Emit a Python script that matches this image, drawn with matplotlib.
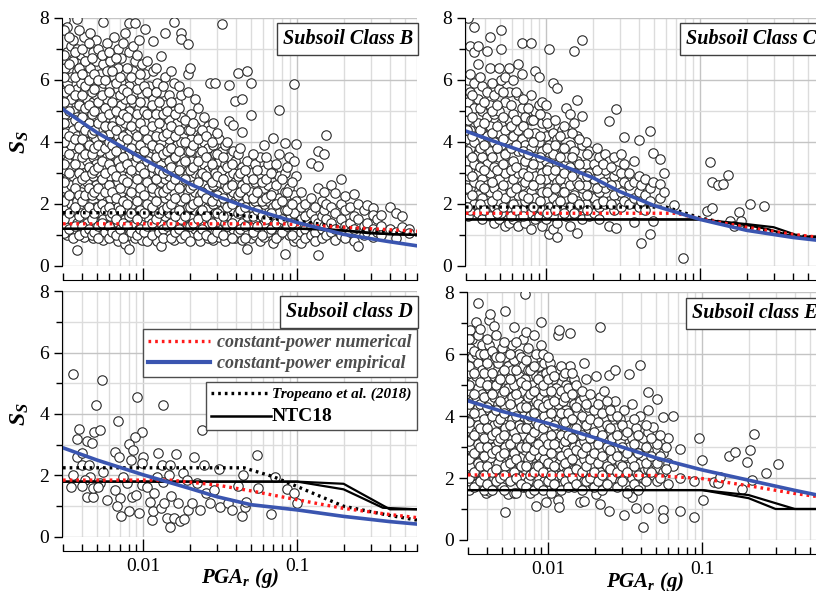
import matplotlib
matplotlib.use("Agg")
import matplotlib.pyplot as plt
from matplotlib.lines import Line2D
from matplotlib.ticker import LogLocator, FixedLocator, NullFormatter, FixedFormatter

plt.rcParams['font.family'] = ['Liberation Serif', 'DejaVu Serif']
plt.rcParams['mathtext.fontset'] = 'custom'
plt.rcParams['mathtext.it'] = 'Liberation Serif:italic:bold'
plt.rcParams['mathtext.rm'] = 'Liberation Serif:italic:bold'

# ---------------- scatter data: PGA_r columns and the S_S values in each ----------------
B_pga = [0.0031, 0.0032, 0.0034, 0.0035, 0.0037, 0.0039, 0.0041, 0.0043, 0.0045, 0.0047,
         0.0049, 0.0052, 0.0055, 0.0058, 0.0061, 0.0064, 0.0068, 0.0072, 0.0076, 0.0080,
         0.0085, 0.0088, 0.0093, 0.0098, 0.0103, 0.0109, 0.0116, 0.0123, 0.0131, 0.0138,
         0.0146, 0.0157, 0.0166, 0.0176, 0.0194,
         0.0205, 0.0218, 0.0232, 0.0246, 0.0262, 0.0270, 0.0285, 0.0294, 0.0312, 0.0322,
         0.0340, 0.0360, 0.0385, 0.0395, 0.0410, 0.0440, 0.0470, 0.0497, 0.0530, 0.0570,
         0.0610, 0.0650, 0.0700, 0.0760, 0.0830, 0.0890, 0.0950, 0.0985,
         0.105, 0.112, 0.123, 0.130, 0.136, 0.145, 0.150, 0.153, 0.165, 0.175, 0.191,
         0.205, 0.220, 0.235, 0.250, 0.270, 0.285, 0.310, 0.330, 0.350, 0.400, 0.440,
         0.480, 0.530]
B_ss = [[7.95, 6.4, 5.6, 4.9, 4.3, 3.7, 3.1, 2.5, 1.9, 1.3],
        [7.7, 6.9, 5.9, 5.2, 4.0, 3.4, 2.8, 2.2, 1.6, 1.0],
        [7.1, 6.1, 5.4, 4.6, 3.9, 3.2, 2.6, 2.0, 1.5, 1.1],
        [7.3, 6.6, 5.0, 4.4, 3.6, 2.9, 2.3, 1.8, 1.2, 0.9],
        [7.97, 7.0, 6.3, 5.7, 4.8, 4.2, 3.5, 2.7, 2.1, 1.4, 0.52],
        [6.8, 5.9, 5.3, 4.6, 3.9, 3.3, 2.4, 1.7, 1.2],
        [7.4, 6.5, 5.6, 5.0, 4.3, 3.7, 3.0, 2.2, 1.5, 0.95],
        [6.9, 6.2, 5.4, 4.7, 4.0, 3.4, 2.7, 2.0, 1.4],
        [7.5, 6.4, 5.8, 5.1, 4.5, 3.8, 3.1, 2.4, 1.8, 1.1],
        [6.9, 6.0, 5.3, 4.2, 3.5, 2.9, 2.1, 1.6, 0.9],
        [7.3, 6.6, 5.5, 4.8, 4.1, 3.3, 2.6, 1.9, 1.3],
        [6.2, 5.7, 5.0, 4.4, 3.7, 3.0, 2.3, 1.7, 1.0],
        [7.86, 6.5, 5.9, 5.2, 4.6, 3.9, 3.2, 2.5, 1.5, 0.85],
        [7.2, 6.3, 5.4, 4.8, 4.1, 3.5, 2.8, 2.1, 1.2],
        [6.6, 5.8, 5.1, 4.3, 3.6, 2.9, 2.2, 1.6, 1.0],
        [7.4, 6.1, 5.5, 4.7, 4.0, 3.3, 2.6, 1.8, 1.2],
        [7.0, 6.4, 5.7, 4.9, 4.2, 3.4, 2.7, 1.9, 1.4, 0.8],
        [6.7, 5.9, 5.2, 4.5, 3.8, 3.0, 2.4, 1.7, 1.1],
        [7.5, 6.2, 5.4, 4.6, 3.9, 3.2, 2.5, 1.5, 0.7],
        [7.84, 6.9, 5.8, 5.0, 4.3, 3.6, 2.9, 2.2, 1.6, 1.0, 0.56],
        [7.1, 6.3, 5.3, 4.7, 4.0, 3.3, 2.6, 1.9, 1.3],
        [7.84, 6.6, 5.6, 4.4, 3.7, 3.0, 2.3, 1.7, 0.9],
        [7.3, 6.0, 5.1, 4.5, 3.8, 3.1, 2.4, 1.8, 1.2],
        [6.5, 5.5, 4.8, 4.1, 3.4, 2.7, 2.0, 1.4, 0.85],
        [7.65, 6.2, 5.3, 4.6, 3.9, 3.2, 2.5, 1.6, 1.1],
        [5.8, 5.0, 4.3, 3.6, 2.9, 2.2, 1.5, 0.9],
        [7.25, 6.3, 5.4, 4.7, 3.8, 3.0, 2.4, 1.8, 1.2],
        [5.9, 5.1, 4.4, 3.7, 3.1, 2.6, 1.9, 1.3, 0.8],
        [6.77, 5.6, 4.8, 4.0, 3.3, 2.7, 2.0, 1.4, 0.64],
        [7.52, 6.1, 5.2, 4.5, 3.5, 2.8, 2.2, 1.6, 1.0],
        [5.5, 4.7, 4.1, 3.4, 2.9, 2.3, 1.7, 1.1],
        [7.86, 5.9, 5.0, 4.3, 3.6, 3.0, 2.4, 1.8, 1.2, 0.85],
        [5.3, 4.6, 3.9, 3.2, 2.6, 2.0, 1.4],
        [7.52, 7.33, 5.5, 4.8, 4.0, 3.3, 2.7, 2.1, 1.5, 0.9],
        [7.15, 6.2, 5.6, 4.4, 3.7, 3.0, 2.4, 1.9, 1.3],
        [4.9, 4.1, 3.4, 2.8, 2.2, 1.6, 1.0],
        [5.4, 4.5, 3.7, 3.0, 2.4, 1.8, 1.2],
        [4.2, 3.6, 2.9, 2.3, 1.7, 1.1, 0.8],
        [4.8, 4.0, 3.3, 2.6, 2.0, 1.4],
        [4.5, 3.8, 3.1, 2.5, 1.9, 1.3, 0.9],
        [5.9, 4.4, 3.5, 2.8, 2.1, 1.5],
        [4.6, 3.9, 3.2, 2.6, 2.0, 1.2, 0.85],
        [5.9, 3.6, 3.0, 2.3, 1.7, 1.1],
        [4.1, 3.4, 2.7, 2.1, 1.5, 0.95],
        [7.79, 3.7, 3.1, 2.4, 1.8, 1.2],
        [3.9, 3.3, 2.6, 2.0, 1.4, 0.8],
        [5.85, 4.67, 3.5, 2.9, 2.2, 1.6, 1.0],
        [4.56, 3.7, 3.0, 2.4, 1.8, 1.2],
        [5.32, 3.4, 2.7, 2.1, 1.5, 0.9],
        [6.23, 3.6, 2.9, 2.3, 1.7, 1.1],
        [5.37, 4.32, 3.2, 2.6, 2.0, 1.4, 0.85],
        [6.28, 3.4, 2.8, 2.2, 1.6, 0.54],
        [5.9, 4.86, 3.0, 2.4, 1.9, 1.3, 0.9],
        [3.3, 2.7, 2.1, 1.5, 1.0],
        [3.5, 2.9, 2.3, 1.8, 1.2, 0.8],
        [3.9, 3.1, 2.5, 2.0, 1.4, 0.95],
        [3.3, 2.6, 2.1, 1.6, 1.1],
        [4.13, 3.0, 2.4, 1.9, 1.3, 0.75],
        [5.02, 3.6, 2.9, 2.2, 1.7, 1.0],
        [3.97, 3.0, 2.4, 1.8, 1.2, 0.38],
        [3.5, 2.5, 2.0, 1.5, 1.0],
        [5.88, 3.4, 2.3, 1.7, 1.2, 0.8],
        [3.92, 2.9, 2.1, 1.4, 0.9],
        [2.4, 1.9, 1.5, 1.1, 0.75],
        [2.0, 1.6, 1.2, 0.9],
        [3.33, 2.2, 1.7, 1.3, 1.0],
        [1.9, 1.5, 1.1, 0.8],
        [3.70, 3.22, 2.5, 1.4, 0.34],
        [2.1, 1.6, 1.2, 0.9],
        [3.6, 2.4, 1.8, 1.3],
        [4.21, 2.0, 1.5, 1.0],
        [2.6, 1.9, 1.4, 1.1],
        [2.36, 1.7, 1.2, 0.85],
        [2.79, 2.0, 1.5, 1.0],
        [2.26, 1.8, 1.3, 0.9],
        [1.9, 1.4, 1.1],
        [2.31, 1.6, 1.2, 0.8],
        [2.0, 1.5, 0.64],
        [1.8, 1.3, 1.0],
        [1.97, 1.4, 1.1],
        [1.88, 1.63, 1.2, 0.95],
        [1.5, 1.1],
        [1.63, 1.3, 1.0],
        [1.9, 1.2],
        [1.7, 1.1, 0.9],
        [1.6, 1.25],
        [1.2, 1.05]]

# second, denser pass through the class B cloud
B2_pga = [0.00305, 0.00330, 0.00360, 0.00380, 0.00400, 0.00420, 0.00440, 0.00460, 0.00480,
          0.00505, 0.00535, 0.00565, 0.00595, 0.00625, 0.00660, 0.00700, 0.00740, 0.00780,
          0.00825, 0.00905, 0.00955, 0.01005, 0.01060, 0.01130, 0.01200, 0.01270, 0.01350,
          0.01420, 0.01510, 0.01610, 0.01710, 0.01850, 0.02000, 0.02110, 0.02250, 0.02390,
          0.02540, 0.02770, 0.03010, 0.03300, 0.03500, 0.03750, 0.04250, 0.04550, 0.05150,
          0.05500, 0.05900, 0.06300, 0.06750, 0.07300, 0.07900, 0.08600, 0.09200]
B2_ss = [[7.6, 6.8, 6.1, 5.3, 4.6, 4.0, 3.3, 2.7, 2.1, 1.5, 1.05],
         [7.4, 6.5, 5.7, 5.0, 4.2, 3.6, 3.0, 2.3, 1.7, 1.2],
         [6.9, 6.1, 5.5, 4.7, 4.1, 3.3, 2.5, 1.9, 1.3],
         [7.6, 6.4, 5.2, 4.5, 3.8, 3.0, 2.3, 1.6, 1.0],
         [7.0, 6.2, 5.5, 4.8, 4.1, 3.5, 2.8, 2.1, 1.3],
         [6.6, 5.8, 5.1, 4.4, 3.6, 2.9, 2.3, 1.7, 1.1],
         [7.2, 6.0, 5.2, 4.6, 3.9, 3.2, 2.5, 1.9, 1.2],
         [6.7, 5.6, 4.9, 4.3, 3.6, 3.0, 2.3, 1.5, 1.0],
         [6.2, 5.7, 5.0, 4.4, 3.8, 3.1, 2.4, 1.7, 1.1],
         [7.0, 6.0, 5.3, 4.6, 3.9, 3.2, 2.5, 1.9, 1.3, 0.9],
         [6.8, 5.5, 4.8, 4.2, 3.4, 2.8, 2.0, 1.4],
         [6.0, 5.1, 4.5, 3.8, 3.0, 2.4, 1.8, 1.1],
         [6.9, 5.6, 4.9, 4.0, 3.3, 2.6, 1.9, 1.3, 0.9],
         [6.3, 5.3, 4.5, 3.9, 3.1, 2.4, 1.7, 1.1],
         [6.7, 5.9, 5.0, 4.4, 3.7, 2.9, 2.2, 1.5, 1.0],
         [6.1, 5.5, 4.7, 4.0, 3.2, 2.5, 1.8, 1.2],
         [7.2, 5.7, 4.9, 4.2, 3.5, 2.8, 2.1, 1.4, 0.9],
         [6.4, 5.6, 4.8, 4.1, 3.3, 2.7, 2.0, 1.3],
         [6.1, 5.4, 4.5, 3.8, 3.1, 2.4, 1.7, 1.1],
         [6.8, 5.7, 4.9, 4.2, 3.5, 2.8, 2.1, 1.5, 1.0],
         [6.2, 5.3, 4.6, 3.9, 3.2, 2.5, 1.8, 1.2],
         [5.8, 5.0, 4.4, 3.7, 3.0, 2.3, 1.7, 1.1],
         [6.6, 5.6, 4.9, 4.1, 3.4, 2.7, 2.0, 1.3, 0.8],
         [5.2, 4.5, 3.9, 3.2, 2.5, 1.9, 1.4, 1.0],
         [6.4, 5.6, 4.9, 4.2, 3.5, 2.8, 2.1, 1.5],
         [5.3, 4.6, 3.8, 3.1, 2.4, 1.7, 1.1],
         [5.8, 4.9, 4.2, 3.6, 3.0, 2.4, 1.8, 1.2, 0.9],
         [5.0, 4.3, 3.7, 3.1, 2.5, 1.9, 1.3],
         [6.3, 5.3, 4.5, 3.8, 3.2, 2.6, 2.0, 1.4, 0.9],
         [4.9, 4.2, 3.5, 2.8, 2.2, 1.6, 1.1],
         [5.8, 5.1, 4.4, 3.7, 3.1, 2.5, 1.8, 1.2],
         [4.7, 4.0, 3.4, 2.8, 2.2, 1.6, 1.0],
         [6.4, 4.4, 3.7, 3.1, 2.5, 1.9, 1.3, 0.8],
         [4.6, 3.9, 3.2, 2.6, 2.0, 1.4],
         [5.1, 4.1, 3.4, 2.7, 2.1, 1.5, 1.0],
         [4.4, 3.7, 3.0, 2.4, 1.8, 1.2],
         [4.2, 3.5, 2.9, 2.2, 1.6, 1.0],
         [4.0, 3.3, 2.7, 2.1, 1.4, 0.9],
         [4.3, 3.6, 2.9, 2.3, 1.7, 1.1],
         [3.5, 2.8, 2.2, 1.6, 1.0],
         [4.0, 3.2, 2.5, 1.9, 1.3],
         [3.3, 2.6, 2.0, 1.4, 0.9],
         [3.8, 3.0, 2.4, 1.8, 1.2],
         [3.1, 2.5, 1.9, 1.3, 0.9],
         [3.6, 2.8, 2.2, 1.6, 1.1],
         [3.1, 2.4, 1.8, 1.3],
         [2.7, 2.1, 1.6, 1.0],
         [3.5, 2.8, 2.2, 1.5],
         [3.0, 2.3, 1.7, 1.2],
         [3.3, 2.6, 2.0, 1.4, 0.9],
         [2.8, 2.1, 1.5, 1.1],
         [3.2, 2.4, 1.8, 1.3],
         [2.7, 2.0, 1.4, 1.0]]

C_pga = [0.0031, 0.0032, 0.0034, 0.0036, 0.0038, 0.0041, 0.0043, 0.0046, 0.0049, 0.0051,
         0.0054, 0.0057, 0.0061, 0.0065, 0.0069, 0.0073, 0.0079, 0.0084, 0.0089, 0.0094,
         0.0099, 0.0104, 0.0110, 0.0118, 0.0126, 0.0134, 0.0142, 0.0151, 0.0159, 0.0170,
         0.0180, 0.0190, 0.0205, 0.0220, 0.0240, 0.0255, 0.0275, 0.0284, 0.0305, 0.0320,
         0.0345, 0.0370, 0.0402, 0.0410, 0.0440, 0.0474, 0.0490, 0.0550, 0.0580, 0.0680,
         0.0770, 0.110, 0.116, 0.119, 0.120, 0.130, 0.140, 0.152, 0.156, 0.165,
         0.180, 0.185, 0.210, 0.260]
C_ss = [[8.0, 6.0, 5.3, 4.7, 4.1, 3.4, 2.9, 2.2, 1.6],
        [7.1, 6.2, 5.6, 4.4, 3.8, 3.1, 2.5, 1.8],
        [7.7, 6.9, 5.9, 5.1, 4.0, 3.3, 2.7, 2.0],
        [7.1, 6.5, 5.4, 4.6, 3.6, 3.0, 2.3, 1.7],
        [5.8, 5.0, 4.3, 3.5, 2.8, 2.2, 1.5],
        [6.95, 5.6, 4.8, 4.2, 3.3, 2.6, 2.0],
        [7.4, 6.4, 5.2, 4.5, 3.7, 3.0, 2.4, 1.6],
        [5.5, 4.9, 4.0, 3.2, 2.5, 1.9, 1.4],
        [6.4, 5.7, 5.0, 4.3, 3.5, 2.8, 2.1, 1.5],
        [7.6, 7.0, 6.0, 4.6, 3.9, 3.1, 2.4, 1.7],
        [6.1, 5.3, 4.4, 3.6, 3.0, 2.2, 1.3],
        [6.4, 5.6, 4.7, 4.0, 3.3, 2.6, 1.9, 1.4],
        [6.0, 4.9, 4.2, 3.4, 2.8, 2.0, 1.5],
        [6.5, 5.5, 4.4, 3.7, 3.0, 2.3, 1.6, 1.3],
        [7.2, 6.2, 5.1, 4.1, 3.2, 2.6, 1.8],
        [4.8, 3.9, 3.4, 2.7, 2.1, 1.4],
        [7.2, 5.5, 4.7, 3.8, 3.1, 2.4, 1.7, 1.2],
        [6.3, 5.0, 4.3, 3.5, 2.9, 2.2, 1.5],
        [6.1, 5.2, 4.0, 3.3, 2.6, 1.9, 1.6],
        [5.3, 4.6, 3.7, 3.0, 2.4, 1.8, 1.3],
        [5.2, 4.8, 4.2, 3.4, 2.8, 2.1, 1.5],
        [7.0, 4.5, 3.9, 3.2, 2.5, 1.9, 1.02],
        [5.9, 4.3, 3.6, 2.9, 2.2, 1.6, 1.2],
        [5.75, 4.1, 3.3, 2.7, 2.0, 1.4, 0.95],
        [4.4, 3.8, 3.1, 2.4, 1.8],
        [5.1, 4.3, 3.5, 2.8, 2.2, 1.6],
        [4.9, 3.9, 3.2, 2.6, 1.9, 1.3],
        [6.95, 4.6, 3.7, 3.0, 2.3, 1.7],
        [5.35, 4.2, 3.4, 2.7, 2.1, 1.07],
        [7.3, 4.85, 3.9, 3.2, 2.5, 1.9, 1.5],
        [4.0, 3.3, 2.6, 2.0],
        [3.7, 3.0, 2.3, 1.6],
        [3.3, 2.8, 2.2, 1.7],
        [3.5, 2.9, 2.4, 1.9, 1.5],
        [3.6, 3.1, 2.5, 2.0],
        [4.67, 3.4, 2.7, 2.1, 1.29],
        [3.5, 2.9, 2.3, 1.8],
        [5.07, 3.1, 2.6, 2.0, 1.23],
        [3.6, 3.0, 2.4, 1.9],
        [4.17, 3.3, 2.7, 2.1],
        [3.0, 2.6, 2.0],
        [3.4, 2.7, 2.2, 1.42],
        [4.06, 2.9, 2.4, 1.9],
        [2.6, 2.1, 0.75],
        [2.8, 2.3, 1.8],
        [4.35, 2.5, 2.1, 1.02],
        [3.63, 2.7, 1.45],
        [3.44, 2.63, 2.2],
        [2.99, 2.4],
        [1.97], [0.27], [1.77], [3.36], [2.71], [1.86], [2.6], [2.65], [2.95],
        [1.45], [1.3], [1.75], [1.45], [2.0], [1.93]]

C2_pga = [0.00305, 0.00330, 0.00370, 0.00395, 0.00445, 0.00475, 0.00525, 0.00590, 0.00630,
          0.00710, 0.00760, 0.00815, 0.00915, 0.01010, 0.01140, 0.01220, 0.01300, 0.01460,
          0.01640, 0.01850, 0.02120, 0.02320, 0.02650]
C2_ss = [[5.0, 4.4, 3.7, 3.1, 2.5, 1.9],
         [5.5, 4.8, 4.2, 3.5, 2.9, 2.3],
         [6.1, 5.1, 4.4, 3.8, 3.2, 2.6, 2.0],
         [5.3, 4.6, 3.9, 3.1, 2.5, 1.8],
         [5.9, 5.0, 4.3, 3.5, 2.7, 2.1],
         [5.2, 4.5, 3.8, 3.1, 2.3, 1.7],
         [5.6, 4.8, 4.1, 3.3, 2.6, 1.9],
         [5.2, 4.5, 3.8, 3.1, 2.4, 1.6],
         [5.6, 4.7, 3.9, 3.2, 2.5, 1.8],
         [5.4, 4.5, 3.7, 3.0, 2.3, 1.6],
         [5.1, 4.3, 3.6, 2.9, 2.2],
         [4.7, 4.0, 3.3, 2.6, 1.9],
         [4.9, 4.2, 3.5, 2.8, 2.1],
         [4.6, 3.8, 3.1, 2.4, 1.7],
         [4.7, 3.9, 3.1, 2.5, 1.8],
         [4.2, 3.5, 2.8, 2.1],
         [4.5, 3.8, 3.0, 2.4, 1.7],
         [4.3, 3.5, 2.9, 2.2],
         [4.1, 3.3, 2.6, 2.0],
         [3.6, 2.9, 2.3, 1.8],
         [3.8, 3.1, 2.5, 2.0],
         [3.3, 2.7, 2.1],
         [3.2, 2.6, 2.0]]

D_pga = [0.00346, 0.00535, 0.00491, 0.0091, 0.0135, 0.00383, 0.0037, 0.0043, 0.0046, 0.0048,
         0.0052, 0.0068, 0.0098, 0.0088, 0.0080, 0.0065, 0.0069, 0.0037, 0.0040, 0.0035,
         0.0040, 0.0044, 0.0045, 0.0042, 0.0034, 0.0040, 0.0043, 0.0047, 0.0047, 0.0052,
         0.0055, 0.0051, 0.0058, 0.0065, 0.0070, 0.0071, 0.0067, 0.0078, 0.0074, 0.0083,
         0.0086, 0.0081, 0.0084, 0.0090, 0.0094, 0.0098, 0.0100, 0.0098, 0.0105, 0.0111,
         0.0113, 0.0116, 0.0117, 0.0122, 0.0125, 0.0132, 0.0135, 0.0130, 0.0136, 0.0142,
         0.0148, 0.0151, 0.0146, 0.0149, 0.0162, 0.0159, 0.0173, 0.0169, 0.0180, 0.0184,
         0.0192, 0.0196, 0.0212, 0.0207, 0.0223, 0.0234, 0.0240, 0.0246, 0.0256, 0.0270,
         0.0286, 0.0309, 0.0316, 0.0353, 0.0377, 0.0410, 0.0439, 0.0445, 0.0460, 0.0467,
         0.0548, 0.0553, 0.0677, 0.0721, 0.0860, 0.0952, 0.1000]
D_ss = [5.30, 5.11, 4.28, 4.55, 4.30, 3.50, 3.20, 3.12, 3.07, 3.42,
        3.47, 3.77, 3.40, 3.26, 3.04, 2.77, 2.61, 2.61, 2.72, 2.03,
        2.34, 2.34, 1.96, 1.85, 1.64, 1.66, 1.31, 1.31, 1.58, 1.77,
        2.12, 1.64, 1.21, 1.53, 1.26, 0.67, 1.01, 1.75, 1.96, 2.50,
        2.82, 0.83, 1.31, 1.37, 0.78, 1.69, 2.61, 2.39, 1.64, 1.15,
        0.56, 0.83, 1.42, 1.96, 2.74, 2.34, 1.78, 0.94, 1.12, 0.61,
        0.32, 1.34, 2.02, 2.34, 2.70, 0.61, 0.53, 1.12, 2.07, 0.58,
        1.85, 0.88, 2.61, 1.12, 1.75, 0.88, 3.49, 2.34, 1.42, 1.12,
        1.53, 2.20, 0.99, 1.12, 0.88, 1.66, 0.67, 2.02, 0.99, 1.15,
        2.66, 1.58, 0.74, 1.94, 1.55, 1.44, 1.12]

E_pga = [0.0031, 0.0032, 0.0034, 0.0035, 0.0037, 0.0039, 0.0041, 0.0042, 0.0044, 0.0047,
         0.0050, 0.0052, 0.0055, 0.0058, 0.0060, 0.0064, 0.0068, 0.0070, 0.0074, 0.0078,
         0.0083, 0.0087, 0.0090, 0.0094, 0.0097, 0.0102, 0.0107, 0.0112, 0.0115, 0.0118,
         0.0124, 0.0131, 0.0138, 0.0146, 0.0155, 0.0160, 0.0170, 0.0180, 0.0192, 0.0204,
         0.0215, 0.0230, 0.0247, 0.0260, 0.0270, 0.0290, 0.0310, 0.0334, 0.0350, 0.0370,
         0.0396, 0.0410, 0.0445, 0.0446, 0.0478, 0.0505, 0.0556, 0.0600, 0.0648, 0.0720,
         0.0880, 0.0953, 0.0990, 0.101, 0.120, 0.127, 0.130, 0.149, 0.163, 0.180,
         0.196, 0.205, 0.210, 0.217, 0.260, 0.310]
E_ss = [[6.77, 6.2, 5.4, 4.8, 4.2, 3.6, 3.0, 2.4, 1.9],
        [6.5, 5.9, 5.1, 4.5, 3.9, 3.3, 2.7, 2.1],
        [7.03, 6.0, 5.3, 4.6, 4.0, 3.5, 2.8, 2.2, 1.8],
        [7.65, 6.6, 5.7, 4.9, 4.3, 3.7, 3.1, 2.5],
        [6.3, 5.5, 4.7, 4.1, 3.4, 2.9, 2.3, 1.8],
        [5.9, 5.2, 4.4, 3.8, 3.2, 2.6, 2.0, 1.5],
        [7.1, 6.3, 5.6, 4.9, 4.2, 3.5, 2.8, 2.3, 1.59],
        [7.28, 5.0, 4.5, 3.9, 3.3, 2.6, 1.9],
        [6.9, 6.0, 5.3, 4.6, 3.7, 3.0, 2.4, 2.0],
        [5.7, 5.1, 4.4, 3.8, 3.2, 2.5, 1.8],
        [6.2, 5.4, 4.7, 4.1, 3.5, 2.9, 2.2, 1.7],
        [7.39, 5.9, 5.2, 4.3, 3.6, 3.0, 2.4, 0.91],
        [5.6, 4.9, 4.0, 3.4, 2.7, 2.1, 1.47],
        [6.3, 5.5, 4.6, 3.9, 3.3, 2.6, 2.0],
        [6.87, 5.8, 5.0, 4.2, 3.5, 2.8, 2.2, 1.5],
        [6.0, 5.3, 4.5, 3.7, 3.1, 2.5, 1.9],
        [6.5, 5.6, 4.8, 4.0, 3.4, 2.7, 2.1, 1.7],
        [7.95, 5.2, 4.4, 3.6, 2.9, 2.3],
        [6.2, 5.5, 4.6, 3.9, 3.2, 2.6, 1.9],
        [5.8, 5.0, 4.2, 3.5, 2.8, 2.2, 1.6],
        [6.0, 5.3, 4.5, 3.8, 3.1, 2.4, 1.11],
        [5.6, 4.9, 4.1, 3.4, 2.7, 2.0, 1.7],
        [7.04, 6.3, 5.3, 4.6, 3.9, 3.2, 2.5],
        [5.7, 4.8, 4.0, 3.3, 2.6, 1.9],
        [5.4, 4.5, 3.7, 3.0, 2.3, 1.21],
        [5.7, 5.0, 4.3, 3.6, 2.9, 2.2, 1.6],
        [5.2, 4.6, 3.9, 3.2, 2.6, 1.9],
        [4.9, 4.1, 3.5, 2.8, 2.1, 1.6],
        [6.6, 5.5, 4.4, 3.7, 3.0, 2.4, 1.29],
        [6.77, 4.7, 3.9, 3.2, 2.5, 1.07],
        [5.3, 4.5, 3.8, 3.1, 2.4, 1.8],
        [5.0, 4.2, 3.5, 2.9, 2.2],
        [6.69, 5.6, 4.6, 3.9, 3.3, 2.6, 2.0],
        [5.2, 4.4, 3.6, 3.0, 2.3, 1.7],
        [4.8, 4.1, 3.4, 2.7, 2.1],
        [4.5, 3.8, 3.1, 2.5, 1.24],
        [5.7, 4.6, 3.9, 3.2, 2.6, 1.9, 1.25],
        [4.3, 3.6, 2.9, 2.3],
        [4.5, 3.7, 3.0, 2.4, 1.8],
        [5.3, 4.0, 3.3, 2.7, 2.0, 1.47],
        [6.87, 4.6, 3.6, 2.9, 2.2, 1.16],
        [4.8, 3.9, 3.2, 2.5, 1.9],
        [5.32, 4.3, 3.5, 2.8, 2.1, 0.93],
        [4.0, 3.3, 2.6, 2.0],
        [5.48, 4.5, 3.6, 2.9, 2.3],
        [3.9, 3.2, 2.5, 1.9],
        [4.2, 3.4, 2.7, 2.1, 0.81],
        [5.34, 3.7, 3.0, 2.4, 1.6],
        [4.4, 3.3, 2.6, 2.0, 1.4],
        [3.6, 2.9, 2.2, 1.03],
        [5.64, 4.0, 3.1, 2.5, 1.7],
        [3.3, 2.7, 2.0, 0.43],
        [3.49, 2.9, 2.3, 1.04],
        [4.78, 4.2],
        [3.65, 2.6, 2.1],
        [4.56, 3.1, 2.5, 1.9],
        [3.97, 2.8, 2.2, 0.97, 0.70],
        [3.3, 2.5, 1.8],
        [4.0, 2.4],
        [2.95, 2.0, 0.95],
        [1.9, 0.73], [3.28], [2.58], [1.29], [1.88], [1.83], [2.04], [2.71], [2.85],
        [1.63], [2.52], [2.90], [1.93], [3.42], [2.17], [2.45]]

E2_pga = [0.00305, 0.00330, 0.00360, 0.00380, 0.00400, 0.00430, 0.00455, 0.00485, 0.00515,
          0.00565, 0.00620, 0.00660, 0.00720, 0.00760, 0.00810, 0.00850, 0.00920, 0.00995,
          0.01045, 0.01095, 0.01210, 0.01280, 0.01350, 0.01420, 0.01500, 0.01650, 0.01750,
          0.01860, 0.01980, 0.02100, 0.02230, 0.02390, 0.02530, 0.02800, 0.03000, 0.03220,
          0.03600, 0.03850, 0.04300, 0.04650, 0.05300, 0.05800]
E2_ss = [[6.5, 5.6, 5.0, 4.4, 3.8, 3.2, 2.6, 2.0, 1.6],
         [6.1, 5.4, 4.7, 4.1, 3.4, 2.8, 2.2, 1.7],
         [6.8, 6.0, 5.1, 4.4, 3.6, 3.0, 2.4, 1.9],
         [6.0, 5.4, 4.6, 3.9, 3.3, 2.7, 2.1, 1.6],
         [6.5, 5.7, 5.0, 4.3, 3.6, 3.0, 2.4, 1.8],
         [6.1, 5.4, 4.7, 4.0, 3.4, 2.8, 2.2, 1.6],
         [6.6, 5.9, 5.0, 4.2, 3.5, 2.9, 2.3, 1.9],
         [5.9, 5.2, 4.5, 3.9, 3.3, 2.7, 2.0],
         [6.4, 5.5, 4.8, 4.1, 3.4, 2.8, 2.1, 1.6],
         [6.0, 5.2, 4.4, 3.7, 3.1, 2.5, 1.9],
         [6.4, 5.5, 4.7, 4.0, 3.3, 2.6, 2.0, 1.5],
         [5.9, 5.1, 4.3, 3.6, 3.0, 2.4, 1.8],
         [6.7, 5.8, 5.0, 4.3, 3.6, 3.0, 2.4, 1.7],
         [5.5, 4.7, 4.0, 3.3, 2.7, 2.1, 1.5],
         [6.6, 5.6, 4.8, 4.1, 3.5, 2.9, 2.2, 1.6],
         [5.2, 4.4, 3.7, 3.1, 2.4, 1.8],
         [6.0, 5.0, 4.3, 3.6, 2.9, 2.2, 1.6],
         [5.9, 5.2, 4.4, 3.8, 3.1, 2.5, 1.9],
         [5.5, 4.8, 4.1, 3.4, 2.8, 2.1, 1.5],
         [5.3, 4.5, 3.7, 3.1, 2.4, 1.8],
         [5.6, 4.8, 4.1, 3.4, 2.7, 2.1, 1.6],
         [5.4, 4.6, 3.8, 3.2, 2.5, 1.9],
         [4.9, 4.1, 3.4, 2.8, 2.2, 1.7],
         [5.4, 4.7, 3.9, 3.3, 2.6, 2.0],
         [5.0, 4.3, 3.6, 2.9, 2.3, 1.8],
         [4.8, 4.0, 3.4, 2.8, 2.2, 1.6],
         [5.2, 4.4, 3.7, 3.0, 2.4, 1.9],
         [4.7, 3.9, 3.3, 2.6, 2.0],
         [4.2, 3.5, 2.8, 2.2, 1.7],
         [4.4, 3.8, 3.1, 2.5, 1.9],
         [4.1, 3.4, 2.7, 2.1, 1.6],
         [4.5, 3.7, 3.0, 2.4, 1.8],
         [4.2, 3.6, 2.9, 2.3],
         [4.0, 3.4, 2.7, 2.2, 1.7],
         [3.7, 3.0, 2.4, 1.9],
         [3.5, 2.8, 2.2, 1.5],
         [3.9, 3.1, 2.4, 1.8],
         [3.4, 2.8, 2.1, 1.6],
         [3.7, 3.0, 2.5, 1.9],
         [3.3, 2.7, 2.2],
         [3.4, 2.7, 2.0],
         [3.0, 2.3]]

# ---------------- model curves (node points) ----------------
B_emp_x = [0.003, 0.005, 0.01, 0.02, 0.03, 0.05, 0.1, 0.2, 0.4, 0.6]
B_emp_y = [5.05, 4.3, 3.45, 2.65, 2.25, 1.85, 1.40, 1.02, 0.78, 0.65]
B_num_x = [0.003, 0.08, 0.2, 0.6]
B_num_y = [1.36, 1.36, 1.25, 1.12]
B_tro_x = [0.003, 0.03, 0.1, 0.2, 0.6]
B_tro_y = [1.72, 1.70, 1.45, 1.25, 1.00]
B_ntc1_x = [0.003, 0.1, 0.2, 0.4, 0.6]
B_ntc1_y = [1.20, 1.20, 1.15, 1.02, 1.00]
B_ntc2_x = [0.003, 0.15, 0.3, 0.6]
B_ntc2_y = [1.20, 1.20, 1.05, 1.00]

C_emp_x = [0.003, 0.005, 0.01, 0.02, 0.03, 0.05, 0.1, 0.2, 0.4, 0.6]
C_emp_y = [4.35, 3.95, 3.44, 2.85, 2.40, 1.95, 1.50, 1.15, 0.92, 0.82]
C_num_x = [0.003, 0.07, 0.1, 0.2, 0.4, 0.6]
C_num_y = [1.70, 1.70, 1.52, 1.25, 1.02, 0.92]
C_tro_x = [0.003, 0.06, 0.1, 0.2, 0.4, 0.6]
C_tro_y = [1.90, 1.90, 1.55, 1.25, 1.00, 0.90]
C_ntc1_x = [0.003, 0.1, 0.2, 0.3, 0.45, 0.6]
C_ntc1_y = [1.50, 1.50, 1.35, 1.25, 0.95, 0.95]
C_ntc2_x = [0.003, 0.1, 0.2, 0.28, 0.42, 0.6]
C_ntc2_y = [1.50, 1.50, 1.32, 1.18, 0.92, 0.92]

D_emp_x = [0.003, 0.005, 0.01, 0.02, 0.03, 0.05, 0.1, 0.2, 0.4, 0.6]
D_emp_y = [2.90, 2.50, 2.02, 1.58, 1.31, 1.05, 0.88, 0.67, 0.50, 0.42]
D_num_x = [0.003, 0.015, 0.03, 0.05, 0.1, 0.2, 0.4, 0.6]
D_num_y = [1.85, 1.85, 1.69, 1.50, 1.21, 0.93, 0.73, 0.63]
D_tro_x = [0.003, 0.045, 0.07, 0.1, 0.2, 0.4, 0.6]
D_tro_y = [2.25, 2.25, 1.96, 1.64, 1.00, 0.70, 0.55]
D_ntc1_x = [0.003, 0.1, 0.2, 0.4, 0.6]
D_ntc1_y = [1.80, 1.80, 1.73, 0.90, 0.90]
D_ntc2_x = [0.003, 0.1, 0.2, 0.36, 0.6]
D_ntc2_y = [1.80, 1.80, 1.55, 0.95, 0.90]

E_emp_x = [0.003, 0.005, 0.01, 0.02, 0.03, 0.05, 0.1, 0.2, 0.4, 0.6]
E_emp_y = [4.49, 4.15, 3.76, 3.30, 3.00, 2.65, 2.26, 1.93, 1.60, 1.42]
E_num_x = [0.003, 0.05, 0.1, 0.2, 0.4, 0.6]
E_num_y = [2.10, 2.08, 1.98, 1.75, 1.50, 1.38]
E_ntc1_x = [0.003, 0.1, 0.2, 0.4, 0.6]
E_ntc1_y = [1.61, 1.61, 1.45, 1.00, 1.00]
E_ntc2_x = [0.003, 0.1, 0.2, 0.3, 0.6]
E_ntc2_y = [1.61, 1.61, 1.35, 1.00, 1.00]

BLUE = '#3a55b0'
RED = '#ff1a1a'
DOT = (0, (0.8, 1.2))


def expand(*pairs):
    xs, ys = [], []
    for cols_x, cols_y in pairs:
        for x, col in zip(cols_x, cols_y):
            for y in col:
                xs.append(x)
                ys.append(y)
    return xs, ys


def setup(ax, label, xlabels):
    ax.set_xscale('log')
    ax.set_xlim(0.003, 0.6)
    ax.set_ylim(0, 8)
    ax.spines['top'].set_visible(False)
    ax.spines['right'].set_visible(False)
    ax.spines['bottom'].set_position(('outward', 10))
    ax.spines['left'].set_position(('outward', 1))
    ax.xaxis.set_major_locator(FixedLocator([0.01, 0.1]))
    ax.xaxis.set_minor_locator(LogLocator(base=10, subs=range(2, 10)))
    ax.xaxis.set_minor_formatter(NullFormatter())
    if xlabels:
        ax.xaxis.set_major_formatter(FixedFormatter(['0.01', '0.1']))
        ax.set_xlabel(r'$PGA_r\ (g)$', fontsize=15, va='center')
        ax.xaxis.set_label_coords(0.5, -0.168)
    else:
        ax.xaxis.set_major_formatter(NullFormatter())
    ax.set_yticks([0, 2, 4, 6, 8])
    ax.set_yticks([1, 3, 5, 7], minor=True)
    ax.tick_params(axis='x', which='major', direction='in', length=9, width=1, labelsize=14, pad=5)
    ax.tick_params(axis='x', which='minor', direction='in', length=5, width=1)
    ax.tick_params(axis='y', which='major', direction='out', length=6, width=1, labelsize=14, pad=3)
    ax.tick_params(axis='y', which='minor', direction='out', length=4, width=1)
    ax.grid(True, which='major', color='#c4c4c4', lw=1)
    ax.grid(True, which='minor', color='#dcdcdc', lw=1)
    ax.set_axisbelow(True)
    ax.text(0.988, 0.955, label, transform=ax.transAxes, ha='right', va='top',
            fontsize=14.5, fontweight='bold', fontstyle='italic', zorder=10,
            bbox=dict(boxstyle='square,pad=0.28', fc='white', ec='0.25', lw=1))


def scatter(ax, xs, ys):
    ax.plot(xs, ys, 'o', ms=6.8, mfc='white', mec='#2a2a2a', mew=0.8, ls='none', zorder=2)


fig = plt.figure(figsize=(8.16, 5.91), dpi=100)
axB = fig.add_axes([0.0772, 0.550, 0.4338, 0.4196])
axC = fig.add_axes([0.5710, 0.550, 0.4338, 0.4196])
axD = fig.add_axes([0.0772, 0.0914, 0.4338, 0.4162])
axE = fig.add_axes([0.5735, 0.0863, 0.4338, 0.4196])

# B
xs, ys = expand((B_pga, B_ss), (B2_pga, B2_ss))
scatter(axB, xs, ys)
axB.plot(B_ntc1_x, B_ntc1_y, color='black', lw=1.6, zorder=3)
axB.plot(B_ntc2_x, B_ntc2_y, color='black', lw=1.6, zorder=3)
axB.plot(B_tro_x, B_tro_y, color='black', lw=2.4, ls=DOT, zorder=4)
axB.plot(B_num_x, B_num_y, color=RED, lw=2.4, ls=DOT, zorder=5)
axB.plot(B_emp_x, B_emp_y, color=BLUE, lw=2.6, zorder=6)
setup(axB, 'Subsoil Class B', False)
axB.set_ylabel(r'$S_S$', fontsize=17, labelpad=6)

# C
xs, ys = expand((C_pga, C_ss), (C2_pga, C2_ss))
scatter(axC, xs, ys)
axC.plot(C_ntc1_x, C_ntc1_y, color='black', lw=1.6, zorder=3)
axC.plot(C_ntc2_x, C_ntc2_y, color='black', lw=1.6, zorder=3)
axC.plot(C_tro_x, C_tro_y, color='black', lw=2.4, ls=DOT, zorder=4)
axC.plot(C_num_x, C_num_y, color=RED, lw=2.4, ls=DOT, zorder=5)
axC.plot(C_emp_x, C_emp_y, color=BLUE, lw=2.6, zorder=6)
setup(axC, 'Subsoil Class C', False)

# D
scatter(axD, D_pga, D_ss)
axD.plot(D_ntc1_x, D_ntc1_y, color='black', lw=1.6, zorder=3)
axD.plot(D_ntc2_x, D_ntc2_y, color='black', lw=1.6, zorder=3)
axD.plot(D_tro_x, D_tro_y, color='black', lw=2.4, ls=DOT, zorder=4)
axD.plot(D_num_x, D_num_y, color=RED, lw=2.4, ls=DOT, zorder=5)
axD.plot(D_emp_x, D_emp_y, color=BLUE, lw=2.6, zorder=6)
setup(axD, 'Subsoil class D', True)
axD.set_ylabel(r'$S_S$', fontsize=17, labelpad=6)

# E
xs, ys = expand((E_pga, E_ss), (E2_pga, E2_ss))
scatter(axE, xs, ys)
axE.plot(E_ntc1_x, E_ntc1_y, color='black', lw=1.6, zorder=3)
axE.plot(E_ntc2_x, E_ntc2_y, color='black', lw=1.6, zorder=3)
axE.plot(E_num_x, E_num_y, color=RED, lw=2.4, ls=DOT, zorder=5)
axE.plot(E_emp_x, E_emp_y, color=BLUE, lw=2.6, zorder=6)
setup(axE, 'Subsoil class E', True)

# legends in panel D
h1 = [Line2D([], [], color=RED, lw=2.4, ls=DOT), Line2D([], [], color=BLUE, lw=3)]
leg1 = axD.legend(h1, ['constant-power numerical', 'constant-power empirical'],
                  loc='upper right', bbox_to_anchor=(1.0, 0.846), handlelength=3.4,
                  prop=dict(family='Liberation Serif', weight='bold', style='italic', size=13),
                  frameon=True, fancybox=False, edgecolor='0.3', framealpha=1,
                  borderpad=0.3, labelspacing=0.2, handletextpad=0.4, borderaxespad=0)
leg1.get_frame().set_linewidth(1)
for t in leg1.get_texts():
    t.set_color('0.3')
leg1.set_zorder(20)
axD.add_artist(leg1)

h2 = [Line2D([], [], color='black', lw=2.4, ls=DOT), Line2D([], [], color='black', lw=1.8)]
leg2 = axD.legend(h2, ['Tropeano et al. (2018)', 'NTC18'],
                  loc='upper right', bbox_to_anchor=(1.0, 0.630), handlelength=3.9,
                  prop=dict(family='Liberation Serif', weight='bold', style='italic', size=11),
                  frameon=True, fancybox=False, edgecolor='0.3', framealpha=1,
                  borderpad=0.35, labelspacing=0.45, handletextpad=0.1, borderaxespad=0)
leg2.get_frame().set_linewidth(1)
leg2.get_texts()[1].set_fontstyle('normal')
leg2.get_texts()[1].set_fontsize(14)
leg2.set_zorder(20)

fig.savefig('out.png', dpi=100)
